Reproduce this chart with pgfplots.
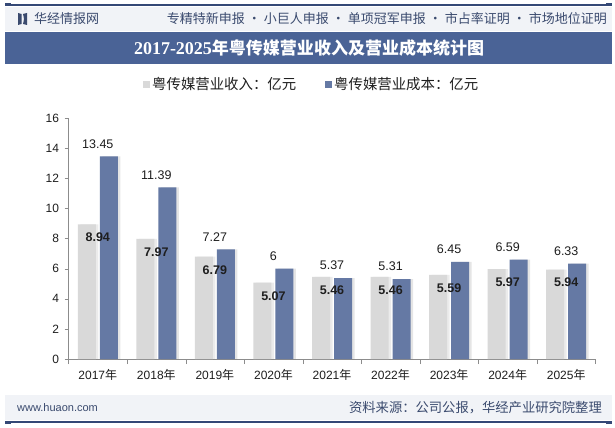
\documentclass[border=0pt]{standalone}
\usepackage{pgfplots}
\pgfplotsset{compat=1.18}
\usepackage{pgfplotstable}
\usepackage{fontspec}
\setmainfont{Liberation Sans}
\newfontfamily\cjk{Noto Sans CJK SC}
\newfontfamily\serifb{Liberation Serif}
\definecolor{barGray}{RGB}{217,217,217}
\definecolor{barBlue}{RGB}{101,121,164}
\definecolor{titleBlue}{RGB}{74,99,150}
\definecolor{lineBlue}{RGB}{52,72,118}
\definecolor{hdrBg}{RGB}{241,243,247}
\definecolor{txtDark}{RGB}{30,30,30}
\definecolor{axisGray}{RGB}{140,140,140}
\definecolor{hdrTxt}{RGB}{58,74,110}

\pgfplotstableread{
x year rev cost
0 2017 8.94 13.45
1 2018 7.97 11.39
2 2019 6.79 7.27
3 2020 5.07 6
4 2021 5.46 5.37
5 2022 5.46 5.31
6 2023 5.59 6.45
7 2024 5.97 6.59
8 2025 5.94 6.33
}\datatable

\begin{document}
\begin{tikzpicture}
\begin{scope}[x=1bp,y=1bp]
\useasboundingbox (0,0) rectangle (615,427);
\fill[white] (0,0) rectangle (615,427);
% header
\fill[hdrBg] (5,396) rectangle (612,420);
\draw[lineBlue, line width=1.3bp] (5,422) -- (612,422);
\fill[lineBlue] (5,420.5) rectangle (11,423.5);
\fill[lineBlue] (606,420.5) rectangle (612,423.5);
% logo
\fill[hdrTxt] (18,414) -- (21.5,413) -- (21.5,403) -- (18,402) -- cycle;
\fill[hdrTxt] (27,414) -- (23,413) .. controls (24.2,408) .. (23,403) -- (27,402) -- cycle;
\node[anchor=west, text=hdrTxt, font=\cjk\fontsize{13bp}{15bp}\selectfont, inner sep=0pt] at (34,408) {华经情报网};
\node[anchor=east, text=hdrTxt, font=\cjk\fontsize{13bp}{15bp}\selectfont, inner sep=0pt] at (607,408) {专精特新申报\hspace{3bp}·\hspace{3bp}小巨人申报\hspace{3bp}·\hspace{3bp}单项冠军申报\hspace{3bp}·\hspace{3bp}市占率证明\hspace{3bp}·\hspace{3bp}市场地位证明};
% title bar
\fill[titleBlue] (5,363) rectangle (612,395);
\node[text=white, inner sep=0pt] at (309,379) {{\serifb\bfseries\fontsize{18bp}{20bp}\selectfont 2017-2025}{\cjk\bfseries\fontsize{17bp}{20bp}\selectfont 年粤传媒营业收入及营业成本统计图}};
% footer
\fill[hdrBg] (5,7) rectangle (612,32);
\draw[lineBlue, line width=1.3bp] (5,5) -- (612,5);
\fill[lineBlue] (5,3.5) rectangle (11,6.5);
\fill[lineBlue] (606,3.5) rectangle (612,6.5);
\node[anchor=west, text=hdrTxt, font=\fontsize{11bp}{13bp}\selectfont, inner sep=0pt] at (17,19) {www.huaon.com};
\node[anchor=east, text=hdrTxt, font=\cjk\fontsize{13.3bp}{15bp}\selectfont, inner sep=0pt] at (602,19) {资料来源：公司公报，华经产业研究院整理};
\end{scope}

\begin{axis}[
  at={(97.78bp,68bp)}, anchor=origin,
  scale only axis, width=527bp, height=241bp,
  xmin=-0.5, xmax=8.5, ymin=0, ymax=16,
  axis x line*=bottom, axis y line*=left,
  axis line style={axisGray, -},
  xtick={0,...,8},
  xticklabels={2017{\cjk 年},2018{\cjk 年},2019{\cjk 年},2020{\cjk 年},2021{\cjk 年},2022{\cjk 年},2023{\cjk 年},2024{\cjk 年},2025{\cjk 年}},
  minor xtick={-0.5,0.5,...,8.5},
  major x tick style={draw=none},
  minor x tick style={axisGray},
  ytick={0,2,...,16},
  y tick style={axisGray},
  tick align=outside,
  major tick length=4bp, minor tick length=5bp,
  /pgf/number format/assume math mode=true,
  tick label style={font=\fontsize{12bp}{14bp}\selectfont, text=txtDark},
  x tick label style={yshift=-3bp},
  y tick label style={xshift=-2bp},
  legend style={at={(0.1414,1.141)}, anchor=west, draw=none, fill=none,
    legend columns=2, inner sep=0pt,
    font=\cjk\fontsize{14.4bp}{16bp}\selectfont, text=txtDark,
    /tikz/every even column/.append style={column sep=27bp}},
]
% shadows
\addplot[ybar, bar width=18bp, bar shift=-8.5bp, fill=black, fill opacity=0.08, draw=none, forget plot] table[x=x,y=rev]{\datatable};
\addplot[ybar, bar width=18bp, bar shift=13.5bp, fill=black, fill opacity=0.10, draw=none, forget plot] table[x=x,y=cost]{\datatable};
% bars
\addplot[ybar, bar width=18bp, bar shift=-11bp, fill=barGray, draw=none,
  nodes near coords,
  every node near coord/.append style={anchor=north, yshift=-8.5bp, inner sep=0pt,
    font=\bfseries\fontsize{12.5bp}{14bp}\selectfont, text=txtDark},
  legend image code/.code={\fill[barGray] (0bp,-3.5bp) rectangle (7bp,3.5bp);}]
  table[x=x,y=rev]{\datatable};
\addlegendentry{粤传媒营业收入：亿元}
\addplot[ybar, bar width=18bp, bar shift=11bp, fill=barBlue, draw=none,
  nodes near coords,
  every node near coord/.append style={anchor=south, yshift=8bp, inner sep=0pt,
    font=\fontsize{12.5bp}{14bp}\selectfont, text=txtDark},
  legend image code/.code={\fill[barBlue] (0bp,-3.5bp) rectangle (7bp,3.5bp);}]
  table[x=x,y=cost]{\datatable};
\addlegendentry{粤传媒营业成本：亿元}
\end{axis}
\end{tikzpicture}
\end{document}
